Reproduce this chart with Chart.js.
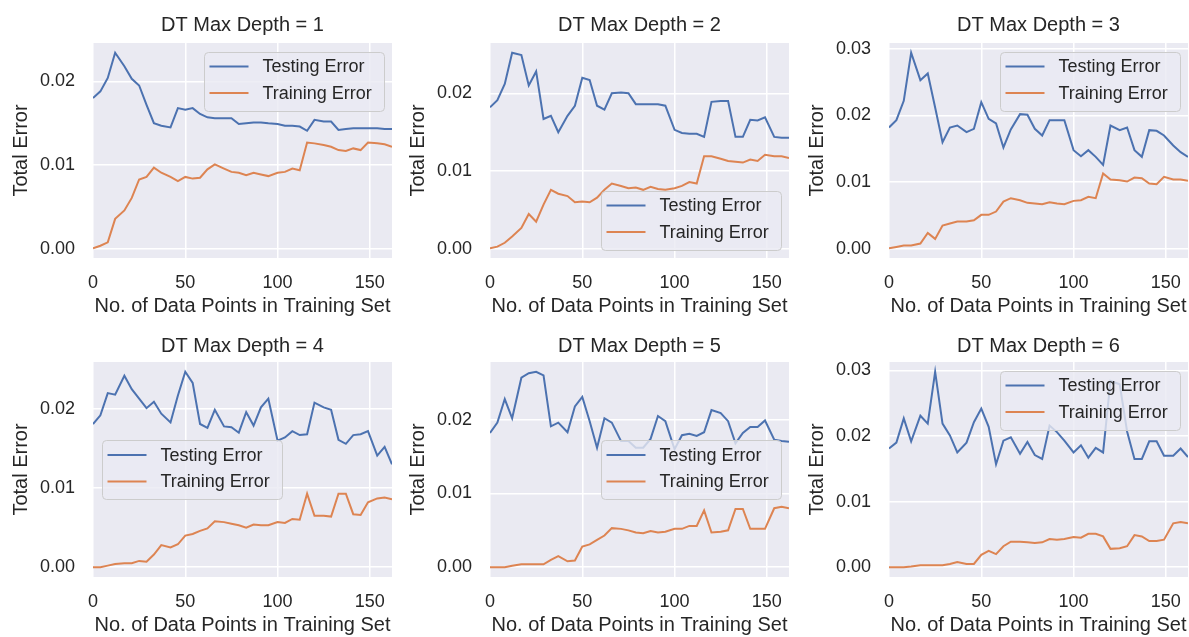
<!DOCTYPE html>
<html>
<head>
<meta charset="utf-8">
<title>DT Max Depth learning curves</title>
<script src="https://cdn.jsdelivr.net/npm/chart.js@4.4.0/dist/chart.umd.min.js"></script>
<style>
  html, body { margin: 0; padding: 0; background: #fff; width: 1189px; height: 637px; overflow: hidden; }
  canvas { position: absolute; }
</style>
</head>
<body>
<canvas id="c1" width="393" height="322"></canvas>
<canvas id="c2" width="393" height="322"></canvas>
<canvas id="c3" width="393" height="322"></canvas>
<canvas id="c4" width="393" height="322"></canvas>
<canvas id="c5" width="393" height="322"></canvas>
<canvas id="c6" width="393" height="322"></canvas>
<script>
// training set sizes (x)
const trainingSetSizes = [0,4,8,12,17,21,25,29,33,37,42,46,50,54,58,62,66,71,75,79,
                          83,87,91,95,100,104,108,112,116,120,125,129,133,137,141,145,149,154,158,162];

const testingErrorDepth1 = [0.0180,0.0188,0.0204,0.0234,0.0218,0.0203,0.0195,0.0172,0.0150,0.0147,
                            0.0145,0.0168,0.0166,0.0168,0.0161,0.0157,0.0156,0.0156,0.0156,0.0149,
                            0.0150,0.0151,0.0151,0.0150,0.0149,0.0147,0.0147,0.0146,0.0141,0.0154,
                            0.0152,0.0152,0.0142,0.0143,0.0144,0.0144,0.0144,0.0144,0.0143,0.0143];
const trainingErrorDepth1 = [0.0001,0.0004,0.0008,0.0036,0.0046,0.0061,0.0083,0.0086,0.0097,0.0091,
                             0.0086,0.0081,0.0086,0.0084,0.0085,0.0095,0.0101,0.0096,0.0092,0.0091,
                             0.0088,0.0091,0.0089,0.0087,0.0091,0.0092,0.0096,0.0094,0.0127,0.0126,
                             0.0124,0.0122,0.0118,0.0117,0.0120,0.0118,0.0127,0.0126,0.0125,0.0122];

const testingErrorDepth2 = [0.0182,0.0191,0.0212,0.0252,0.0249,0.0210,0.0228,0.0167,0.0171,0.0150,
                            0.0171,0.0184,0.0220,0.0217,0.0184,0.0179,0.0200,0.0201,0.0200,0.0186,
                            0.0186,0.0186,0.0186,0.0184,0.0153,0.0149,0.0148,0.0148,0.0144,0.0189,
                            0.0190,0.0190,0.0144,0.0144,0.0166,0.0165,0.0169,0.0144,0.0143,0.0143];
const trainingErrorDepth2 = [0.0001,0.0003,0.0008,0.0016,0.0027,0.0045,0.0035,0.0057,0.0076,0.0071,
                             0.0068,0.0060,0.0061,0.0060,0.0066,0.0076,0.0084,0.0081,0.0078,0.0079,
                             0.0076,0.0080,0.0077,0.0076,0.0078,0.0081,0.0086,0.0084,0.0119,0.0119,
                             0.0116,0.0113,0.0112,0.0111,0.0115,0.0113,0.0121,0.0119,0.0119,0.0117];

const testingErrorDepth3 = [0.0182,0.0193,0.0222,0.0294,0.0253,0.0263,0.0212,0.0160,0.0182,0.0185,
                            0.0175,0.0180,0.0220,0.0195,0.0188,0.0152,0.0179,0.0202,0.0201,0.0180,
                            0.0170,0.0193,0.0193,0.0193,0.0148,0.0139,0.0148,0.0138,0.0126,0.0185,
                            0.0178,0.0182,0.0148,0.0138,0.0178,0.0177,0.0170,0.0155,0.0145,0.0138];
const trainingErrorDepth3 = [0.0001,0.0003,0.0005,0.0005,0.0008,0.0024,0.0015,0.0035,0.0038,0.0041,
                             0.0041,0.0043,0.0051,0.0051,0.0056,0.0071,0.0076,0.0073,0.0069,0.0068,
                             0.0067,0.0070,0.0068,0.0067,0.0072,0.0073,0.0078,0.0076,0.0113,0.0104,
                             0.0103,0.0101,0.0107,0.0106,0.0098,0.0097,0.0108,0.0104,0.0104,0.0102];

const testingErrorDepth4 = [0.0181,0.0192,0.0220,0.0218,0.0242,0.0225,0.0213,0.0201,0.0209,0.0194,
                            0.0183,0.0217,0.0247,0.0233,0.0181,0.0176,0.0199,0.0178,0.0177,0.0170,
                            0.0196,0.0179,0.0202,0.0213,0.0160,0.0164,0.0172,0.0167,0.0168,0.0208,
                            0.0202,0.0199,0.0161,0.0156,0.0167,0.0168,0.0172,0.0141,0.0152,0.0130];
const trainingErrorDepth4 = [0.0000,0.0000,0.0002,0.0004,0.0005,0.0005,0.0008,0.0007,0.0016,0.0028,
                             0.0025,0.0029,0.0040,0.0042,0.0046,0.0049,0.0058,0.0057,0.0055,0.0053,
                             0.0050,0.0054,0.0053,0.0053,0.0057,0.0056,0.0061,0.0060,0.0093,0.0065,
                             0.0065,0.0064,0.0093,0.0093,0.0067,0.0066,0.0082,0.0087,0.0088,0.0086];

const testingErrorDepth5 = [0.0182,0.0196,0.0228,0.0202,0.0257,0.0263,0.0265,0.0260,0.0191,0.0196,
                            0.0183,0.0218,0.0231,0.0198,0.0162,0.0202,0.0196,0.0171,0.0171,0.0162,
                            0.0162,0.0174,0.0205,0.0198,0.0160,0.0179,0.0181,0.0178,0.0183,0.0213,
                            0.0209,0.0198,0.0168,0.0182,0.0190,0.0190,0.0199,0.0173,0.0171,0.0170];
const trainingErrorDepth5 = [0.0000,0.0000,0.0000,0.0002,0.0004,0.0004,0.0004,0.0004,0.0010,0.0015,
                             0.0008,0.0009,0.0028,0.0031,0.0037,0.0043,0.0053,0.0052,0.0050,0.0047,
                             0.0046,0.0049,0.0047,0.0048,0.0052,0.0052,0.0056,0.0056,0.0077,0.0047,
                             0.0048,0.0050,0.0079,0.0079,0.0052,0.0052,0.0052,0.0080,0.0082,0.0080];

const testingErrorDepth6 = [0.0181,0.0190,0.0227,0.0192,0.0231,0.0219,0.0298,0.0219,0.0201,0.0175,
                            0.0190,0.0221,0.0242,0.0214,0.0157,0.0193,0.0198,0.0173,0.0191,0.0171,
                            0.0165,0.0216,0.0206,0.0193,0.0175,0.0186,0.0167,0.0182,0.0175,0.0284,
                            0.0279,0.0207,0.0165,0.0165,0.0192,0.0192,0.0170,0.0170,0.0181,0.0168];
const trainingErrorDepth6 = [0.0000,0.0000,0.0000,0.0001,0.0003,0.0003,0.0003,0.0003,0.0005,0.0008,
                             0.0005,0.0005,0.0019,0.0025,0.0020,0.0032,0.0039,0.0039,0.0038,0.0037,
                             0.0038,0.0043,0.0042,0.0043,0.0046,0.0045,0.0051,0.0051,0.0047,0.0028,
                             0.0029,0.0032,0.0049,0.0047,0.0040,0.0040,0.0042,0.0067,0.0069,0.0067];

const panelTitles = ['DT Max Depth = 1','DT Max Depth = 2','DT Max Depth = 3',
                     'DT Max Depth = 4','DT Max Depth = 5','DT Max Depth = 6'];
const seriesLabels = ['Testing Error', 'Training Error'];
const xAxisLabel = 'No. of Data Points in Training Set';
const yAxisLabel = 'Total Error';
const xTickStep = 50;
const yTickStep = 0.01;

const panels = [
  {id:'c1', title:panelTitles[0], test:testingErrorDepth1, train:trainingErrorDepth1, loc:'upper right'},
  {id:'c2', title:panelTitles[1], test:testingErrorDepth2, train:trainingErrorDepth2, loc:'lower right'},
  {id:'c3', title:panelTitles[2], test:testingErrorDepth3, train:trainingErrorDepth3, loc:'upper right'},
  {id:'c4', title:panelTitles[3], test:testingErrorDepth4, train:trainingErrorDepth4, loc:'center left'},
  {id:'c5', title:panelTitles[4], test:testingErrorDepth5, train:trainingErrorDepth5, loc:'center right'},
  {id:'c6', title:panelTitles[5], test:testingErrorDepth6, train:trainingErrorDepth6, loc:'upper right'}
];

const FONT = "'Liberation Sans', Arial, Helvetica, sans-serif";
const TEXT = '#262626';
Chart.defaults.font.family = FONT;
Chart.defaults.color = TEXT;

const colLeft = [0, 397, 796];
const rowTop = [0, 319];
const titlePad = [{top: 13, bottom: 6}, {top: 15, bottom: 4}];

// seaborn-like grey plot background
const plotBackground = {
  id: 'plotBackground',
  beforeDraw(chart) {
    const {ctx, chartArea: a} = chart;
    ctx.save();
    ctx.fillStyle = '#eaeaf2';
    ctx.fillRect(a.left, a.top, a.right - a.left, a.bottom - a.top);
    ctx.restore();
  }
};

// legend drawn inside the plot, matplotlib style
const insideLegend = {
  id: 'insideLegend',
  afterDatasetsDraw(chart, args, opts) {
    const {ctx, chartArea: a} = chart;
    const w = 180, h = 59, gap = 8.5;
    const x = opts.loc.endsWith('right') ? a.right - gap - w : a.left + gap;
    let y = (a.top + a.bottom - h) / 2;
    if (opts.loc.startsWith('upper')) y = a.top + gap;
    if (opts.loc.startsWith('lower')) y = a.bottom - gap - h;
    ctx.save();
    ctx.beginPath();
    ctx.roundRect(Math.round(x) + 0.5, Math.round(y) + 0.5, w, h, 4);
    ctx.fillStyle = 'rgba(234,234,242,0.8)';
    ctx.fill();
    ctx.strokeStyle = '#cccccc';
    ctx.lineWidth = 1;
    ctx.stroke();
    ctx.font = '18px ' + FONT;
    ctx.textBaseline = 'middle';
    chart.data.datasets.forEach((ds, i) => {
      const cy = y + 15 + i * 26.5;
      ctx.strokeStyle = ds.borderColor;
      ctx.lineWidth = 2;
      ctx.beginPath();
      ctx.moveTo(x + 6, cy);
      ctx.lineTo(x + 45, cy);
      ctx.stroke();
      ctx.fillStyle = TEXT;
      ctx.fillText(ds.label, x + 59, cy + 1);
    });
    ctx.restore();
  }
};

function toPoints(values) {
  return trainingSetSizes.map((x, i) => ({x: x, y: values[i]}));
}

// matplotlib autoscale: data range plus 5% margins
function yLimits(a, b) {
  const all = a.concat(b);
  const lo = Math.min(...all), hi = Math.max(...all);
  const m = (hi - lo) * 0.05;
  return [lo - m, hi + m];
}

panels.forEach((p, k) => {
  const row = Math.floor(k / 3), col = k % 3;
  const canvas = document.getElementById(p.id);
  canvas.style.left = colLeft[col] + 'px';
  canvas.style.top = rowTop[row] + 'px';
  const lim = yLimits(p.test, p.train);

  new Chart(canvas, {
    type: 'line',
    data: {
      datasets: [
        {label: seriesLabels[0], data: toPoints(p.test), borderColor: '#4c72b0', borderWidth: 2,
         pointRadius: 0, tension: 0, fill: false},
        {label: seriesLabels[1], data: toPoints(p.train), borderColor: '#dd8452', borderWidth: 2,
         pointRadius: 0, tension: 0, fill: false}
      ]
    },
    options: {
      responsive: false,
      animation: false,
      devicePixelRatio: 1,
      layout: {padding: {left: 0, right: 1, top: 0, bottom: 0}},
      plugins: {
        legend: {display: false},
        tooltip: {enabled: false},
        title: {display: true, text: p.title, fullSize: false, color: TEXT,
                font: {size: 20, weight: 'normal', lineHeight: 1.2}, padding: titlePad[row]},
        insideLegend: {loc: p.loc}
      },
      scales: {
        x: {
          type: 'linear',
          min: 0,
          max: trainingSetSizes[trainingSetSizes.length - 1],
          afterFit: s => { s.height = 64; },
          // invisible tick marks give the label gap without shrinking the plot width
          grid: {color: '#ffffff', lineWidth: 1.5, drawTicks: true, tickLength: 14,
                 tickColor: 'rgba(0,0,0,0)'},
          border: {display: false},
          ticks: {stepSize: xTickStep, includeBounds: false, padding: 0, maxRotation: 0,
                  color: TEXT, font: {size: 18}},
          title: {display: true, text: xAxisLabel, color: TEXT, font: {size: 20},
                  padding: {top: 0, bottom: 3.5}}
        },
        y: {
          type: 'linear',
          min: lim[0],
          max: lim[1],
          afterFit: s => { s.width = 93; },
          grid: {color: '#ffffff', lineWidth: 1.5, drawTicks: false},
          border: {display: false},
          ticks: {stepSize: yTickStep, includeBounds: false, padding: 18, color: TEXT,
                  font: {size: 18}, callback: v => v.toFixed(2)},
          title: {display: true, text: yAxisLabel, color: TEXT, font: {size: 20},
                  padding: {top: 9, bottom: 0}}
        }
      }
    },
    plugins: [plotBackground, insideLegend]
  });
});
</script>
</body>
</html>
